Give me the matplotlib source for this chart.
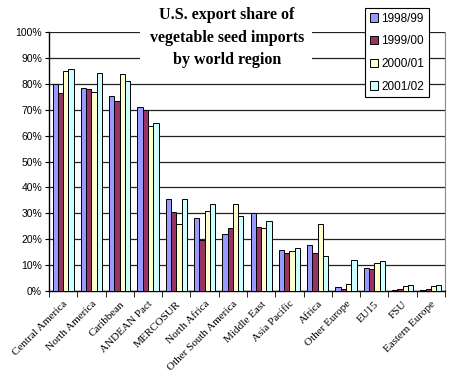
import numpy as np
import matplotlib.pyplot as plt
from matplotlib.patches import Rectangle
from matplotlib.ticker import FixedLocator, PercentFormatter

# Datos
regions = ["Central America", "North America", "Caribbean", "ANDEAN Pact", "MERCOSUR",
           "North Africa", "Other South America", "Middle East", "Asia Pacific", "Africa",
           "Other Europe", "EU15", "FSU", "Eastern Europe"]
years = ["1998/99", "1999/00", "2000/01", "2001/02"]
y9899 = [79.8, 78.3, 75.4, 71.2, 35.6, 28.2, 21.9, 30.2, 15.7, 17.6, 1.7, 9.0, 0.3, 0.2]
y9900 = [76.3, 77.9, 73.4, 69.8, 30.6, 19.8, 24.4, 24.9, 14.8, 14.8, 0.6, 8.5, 0.6, 0.9]
y0001 = [85.0, 76.7, 83.8, 63.7, 25.9, 31.0, 33.4, 24.3, 15.3, 25.8, 2.7, 11.0, 1.9, 1.9]
y0102 = [85.7, 84.2, 81.0, 65.0, 35.6, 33.5, 28.8, 26.9, 16.7, 13.4, 12.0, 11.4, 2.3, 2.3]
colors = ["#9999FF", "#993366", "#FFFFCC", "#CCFFFF"]

fig = plt.figure(figsize=(4.5, 3.71), dpi=100)
ax = fig.add_axes([49/450, 1 - 291/371, 396/450, 259/371])

x = np.arange(len(regions))
w = 0.1875
for i, (vals, c, lab) in enumerate(zip([y9899, y9900, y0001, y0102], colors, years)):
    ax.bar(x + (i - 1.5) * w, vals, w, color=c, edgecolor="black", linewidth=0.7,
           label=lab, zorder=3)

ax.set_xlim(-0.5, len(regions) - 0.5)
ax.set_ylim(0, 100)
ax.set_yticks(np.arange(0, 101, 10))
ax.yaxis.set_major_formatter(PercentFormatter(decimals=0))
ax.yaxis.grid(True, color="#222222", linewidth=0.9, zorder=0)
ax.tick_params(axis="y", direction="out", length=3, labelsize=7.5, pad=2)
for t in ax.get_yticklabels():
    t.set_family("Liberation Sans")

ax.set_xticks(x)
ax.set_xticklabels(regions, rotation=45, ha="right", rotation_mode="anchor",
                   family="Liberation Serif", fontsize=8)
ax.tick_params(axis="x", which="major", length=0, pad=6)
ax.xaxis.set_minor_locator(FixedLocator(np.arange(-0.5, len(regions), 1)))
ax.tick_params(axis="x", which="minor", direction="out", length=4)

ax.spines["top"].set_visible(False)
ax.spines["right"].set_color("#888888")
ax.spines["left"].set_linewidth(1.0)
ax.spines["bottom"].set_linewidth(1.0)

# Titulo sobre fondo blanco
fig.add_artist(Rectangle((140/450, 1 - 74/371), 172/450, 74/371, transform=fig.transFigure,
                         facecolor="white", edgecolor="none", zorder=1))
for txt, yy in zip(["U.S. export share of", "vegetable seed imports", "by world region"],
                   [15, 38, 60]):
    fig.text(227/450, 1 - yy/371, txt, ha="center", va="center", fontsize=11.5,
             fontweight="bold", family="Liberation Serif", zorder=2)

leg = fig.legend(loc="upper left", bbox_to_anchor=(365/450, 1 - 8/371),
                 prop={"family": "Liberation Sans", "size": 8.5}, fancybox=False,
                 edgecolor="black", framealpha=1, handlelength=0.7, handleheight=0.7,
                 handletextpad=0.3, labelspacing=0.9, borderpad=0.4, borderaxespad=0)
leg.get_frame().set_linewidth(0.8)
leg.set_zorder(3)

plt.savefig("out.png", dpi=100)
